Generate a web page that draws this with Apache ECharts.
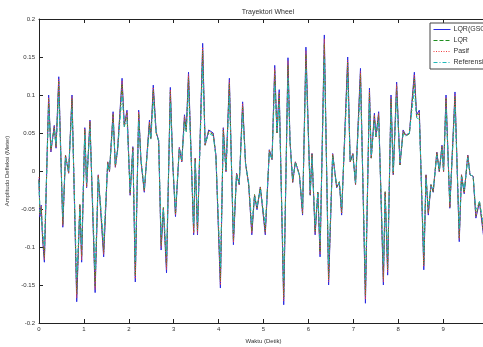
<!DOCTYPE html>
<html lang="en">
<head>
    <meta charset="UTF-8">
    <script src="https://cdn.jsdelivr.net/npm/echarts@6/dist/echarts.min.js"></script>
    <title>Trayektori Wheel</title>
    <style>
        html, body { margin: 0; padding: 0; background: #fff; }
    </style>
</head>
<body>
    <div id="chart" style="width: 483px;height:347px;"></div>
</body>
<script type="text/javascript">
    // waktu (detik)
    var waktu = [0,0.02,0.05,0.08,0.12,0.215,0.265,0.34,0.38,0.44,
        0.53,0.59,0.66,0.735,0.84,0.91,0.95,1.02,1.06,1.135,
        1.25,1.32,1.38,1.44,1.53,1.57,1.65,1.70,1.75,1.85,
        1.90,1.96,2.03,2.09,2.145,2.22,2.27,2.345,2.46,2.49,
        2.545,2.61,2.665,2.72,2.77,2.84,2.925,2.98,3.04,3.125,
        3.18,3.24,3.28,3.33,3.445,3.48,3.53,3.645,3.70,3.78,
        3.88,3.94,4.04,4.105,4.165,4.24,4.33,4.40,4.46,4.535,
        4.60,4.67,4.74,4.80,4.855,4.93,5.04,5.13,5.19,5.25,
        5.30,5.35,5.45,5.545,5.59,5.65,5.71,5.80,5.87,5.945,
        6.04,6.08,6.15,6.21,6.26,6.355,6.45,6.54,6.63,6.69,
        6.74,6.875,6.93,6.99,7.05,7.16,7.27,7.36,7.40,7.47,
        7.505,7.565,7.67,7.71,7.765,7.84,7.89,7.965,8.04,8.11,
        8.17,8.25,8.36,8.41,8.47,8.57,8.62,8.67,8.73,8.78,
        8.86,8.915,8.975,9.01,9.065,9.115,9.15,9.265,9.36,9.41,
        9.47,9.55,9.60,9.67,9.73,9.81,9.90,10.0];

    var lqrGso = [-0.010,-0.060,-0.045,-0.090,-0.120,0.100,0.025,0.060,0.030,0.124,
        -0.074,0.021,-0.003,0.100,-0.172,-0.045,-0.120,0.057,-0.022,0.067,
        -0.160,-0.005,-0.058,-0.113,0.012,-0.001,0.078,0.005,0.028,0.122,
        0.060,0.080,-0.032,0.032,-0.146,0.080,0.014,-0.028,0.067,0.043,
        0.113,0.051,0.040,-0.104,-0.050,-0.134,0.110,0.008,-0.060,0.031,
        0.012,0.074,0.054,0.130,-0.084,0.017,-0.084,0.168,0.034,0.054,
        0.050,0.021,-0.154,0.057,-0.001,0.122,-0.097,-0.003,-0.018,0.091,
        0.010,-0.018,-0.084,-0.032,-0.051,-0.021,-0.084,0.028,0.015,0.139,
        0.050,0.107,-0.176,0.149,0.040,-0.015,0.012,-0.005,-0.058,0.163,
        -0.032,0.023,-0.084,-0.028,-0.113,0.179,-0.150,0.023,-0.022,-0.015,
        -0.058,0.150,0.012,0.023,-0.018,0.135,-0.174,0.109,0.017,0.076,
        0.045,0.078,-0.150,-0.028,-0.137,0.100,-0.005,0.117,0.008,0.054,
        0.047,0.050,0.130,0.074,0.080,-0.130,-0.005,-0.058,-0.018,-0.028,
        0.025,-0.001,0.034,-0.001,0.100,0.012,-0.049,0.104,-0.093,-0.005,
        -0.030,0.021,-0.005,-0.007,-0.062,-0.041,-0.085,-0.050];

    var lqr = [-0.012,-0.056,-0.048,-0.086,-0.114,0.094,0.028,0.057,0.032,0.117,
        -0.070,0.020,-0.002,0.095,-0.162,-0.044,-0.113,0.054,-0.020,0.064,
        -0.151,-0.006,-0.055,-0.107,0.011,0.000,0.074,0.006,0.027,0.115,
        0.058,0.076,-0.030,0.030,-0.138,0.076,0.015,-0.026,0.063,0.042,
        0.107,0.050,0.039,-0.098,-0.048,-0.126,0.104,0.009,-0.057,0.030,
        0.013,0.070,0.052,0.123,-0.080,0.016,-0.079,0.158,0.034,0.052,
        0.048,0.020,-0.145,0.054,0.000,0.115,-0.092,-0.004,-0.017,0.086,
        0.010,-0.017,-0.080,-0.031,-0.049,-0.021,-0.080,0.027,0.015,0.131,
        0.049,0.101,-0.166,0.140,0.039,-0.014,0.012,-0.005,-0.055,0.154,
        -0.031,0.022,-0.080,-0.027,-0.107,0.168,-0.142,0.022,-0.021,-0.014,
        -0.055,0.142,0.012,0.022,-0.017,0.128,-0.164,0.103,0.017,0.072,
        0.044,0.074,-0.142,-0.027,-0.130,0.095,-0.004,0.111,0.008,0.052,
        0.046,0.049,0.123,0.071,0.076,-0.123,-0.006,-0.055,-0.018,-0.027,
        0.024,0.000,0.032,0.000,0.095,0.012,-0.047,0.098,-0.088,-0.005,
        -0.029,0.020,-0.005,-0.007,-0.059,-0.040,-0.080,-0.048];

    var pasif = [-0.008,-0.058,-0.046,-0.088,-0.117,0.097,0.026,0.059,0.031,0.121,
        -0.072,0.021,-0.003,0.098,-0.167,-0.045,-0.117,0.056,-0.021,0.066,
        -0.156,-0.005,-0.057,-0.110,0.012,-0.001,0.076,0.005,0.028,0.119,
        0.059,0.078,-0.031,0.031,-0.142,0.078,0.014,-0.027,0.065,0.043,
        0.110,0.051,0.040,-0.101,-0.049,-0.130,0.107,0.008,-0.058,0.031,
        0.012,0.072,0.053,0.127,-0.082,0.017,-0.082,0.163,0.034,0.053,
        0.049,0.021,-0.150,0.056,-0.001,0.119,-0.094,-0.003,-0.018,0.089,
        0.010,-0.018,-0.082,-0.032,-0.050,-0.021,-0.082,0.028,0.015,0.135,
        0.050,0.104,-0.171,0.145,0.040,-0.015,0.012,-0.005,-0.056,0.158,
        -0.031,0.023,-0.082,-0.028,-0.110,0.174,-0.146,0.023,-0.021,-0.015,
        -0.056,0.146,0.012,0.023,-0.018,0.131,-0.169,0.106,0.017,0.074,
        0.045,0.076,-0.146,-0.028,-0.133,0.097,-0.005,0.114,0.008,0.053,
        0.047,0.050,0.127,0.072,0.078,-0.126,-0.005,-0.056,-0.018,-0.027,
        0.025,-0.001,0.033,-0.001,0.097,0.012,-0.048,0.101,-0.090,-0.005,
        -0.029,0.021,-0.005,-0.007,-0.060,-0.040,-0.083,-0.049];

    var referensi = [-0.015,-0.050,-0.048,-0.078,-0.098,0.082,0.032,0.052,0.035,0.098,
        -0.060,0.018,0.000,0.082,-0.140,-0.050,-0.098,0.047,-0.015,0.055,
        -0.130,-0.010,-0.050,-0.092,0.010,0.002,0.064,0.010,0.026,0.100,
        0.058,0.066,-0.025,0.025,-0.118,0.066,0.016,-0.022,0.055,0.042,
        0.092,0.050,0.040,-0.085,-0.050,-0.110,0.090,0.010,-0.050,0.028,
        0.015,0.062,0.052,0.107,-0.070,0.012,-0.068,0.138,0.036,0.050,
        0.046,0.020,-0.126,0.046,0.002,0.100,-0.080,-0.006,-0.016,0.075,
        0.010,-0.015,-0.070,-0.034,-0.046,-0.024,-0.070,0.024,0.016,0.114,
        0.052,0.088,-0.144,0.122,0.040,-0.010,0.010,-0.006,-0.048,0.134,
        -0.026,0.018,-0.070,-0.030,-0.093,0.147,-0.123,0.018,-0.018,-0.016,
        -0.048,0.123,0.014,0.020,-0.015,0.111,-0.143,0.090,0.020,0.064,
        0.046,0.066,-0.123,-0.035,-0.112,0.082,0.000,0.096,0.012,0.048,
        0.046,0.050,0.107,0.070,0.068,-0.107,-0.010,-0.048,-0.020,-0.024,
        0.020,0.002,0.028,0.002,0.082,0.010,-0.040,0.085,-0.076,-0.008,
        -0.025,0.017,-0.004,-0.008,-0.051,-0.040,-0.070,-0.045];

    var namaSeri = ['LQR(GSO)', 'LQR', 'Pasif', 'Referensi'];
    var nilaiSeri = [lqrGso, lqr, pasif, referensi];
    var warna = ['#2a2ae0', '#1f8f1f', '#f04040', '#20b8b8'];
    var garis = ['solid', [4, 2], [1, 1.5], [4, 2, 1, 2]];

    function pasangkan(nilai) {
        var hasil = [];
        for (var i = 0; i < waktu.length; i++) {
            hasil.push([waktu[i], nilai[i]]);
        }
        return hasil;
    }

    var seri = [], legendData = [];
    for (var k = 0; k < namaSeri.length; k++) {
        var gaya = {color: warna[k], width: 1, type: garis[k]};
        seri.push({
            name: namaSeri[k],
            type: 'line',
            data: pasangkan(nilaiSeri[k]),
            showSymbol: false,
            symbol: 'none',
            lineStyle: gaya,
            itemStyle: {color: warna[k]}
        });
        legendData.push({name: namaSeri[k], lineStyle: gaya, itemStyle: {opacity: 0}});
    }

    var chart = echarts.init(document.getElementById('chart'));
    var teks = '#333';
    var axisFont = {fontSize: 6, color: teks, fontFamily: 'Liberation Sans'};

    chart.setOption({
        animation: false,
        backgroundColor: '#fff',
        textStyle: {fontFamily: 'Liberation Sans'},
        title: {
            text: 'Trayektori Wheel',
            left: 263,
            top: 4,
            textAlign: 'center',
            textStyle: {fontSize: 7, fontWeight: 'normal', color: teks}
        },
        legend: {
            orient: 'vertical',
            left: 430,
            top: 23,
            data: legendData,
            itemWidth: 17,
            itemHeight: 6,
            itemGap: 4,
            padding: [3, 6, 3, 3],
            borderColor: '#444',
            borderWidth: 1,
            backgroundColor: '#fff',
            textStyle: {fontSize: 7, color: teks, padding: [0, 0, 0, -2]}
        },
        // kanan sengaja terpotong seperti gambar asli
        grid: {left: 39, top: 19, height: 304, width: 449, outerBoundsMode: 'none'},
        xAxis: [{
            type: 'value',
            min: 0, max: 10, interval: 1,
            name: 'Waktu (Detik)',
            nameLocation: 'middle',
            nameGap: 15,
            nameTextStyle: {fontSize: 6, color: teks},
            axisLine: {show: true, onZero: false, lineStyle: {color: '#222', width: 1}},
            axisTick: {inside: true, length: 4, lineStyle: {color: '#222'}},
            axisLabel: Object.assign({margin: 3}, axisFont),
            splitLine: {show: false}
        }, {
            type: 'value',
            position: 'top',
            min: 0, max: 10, interval: 1,
            axisLine: {show: true, onZero: false, lineStyle: {color: '#222', width: 1}},
            axisTick: {inside: true, length: 4, lineStyle: {color: '#222'}},
            axisLabel: {show: false},
            splitLine: {show: false}
        }],
        yAxis: {
            type: 'value',
            min: -0.2, max: 0.2, interval: 0.05,
            name: 'Amplitudo Defleksi (Meter)',
            nameLocation: 'middle',
            nameGap: 23,
            nameTextStyle: {fontSize: 6, color: teks},
            axisLine: {show: true, onZero: false, lineStyle: {color: '#222', width: 1}},
            axisTick: {inside: true, length: 4, lineStyle: {color: '#222'}},
            axisLabel: Object.assign({margin: 4}, axisFont),
            splitLine: {show: false}
        },
        series: seri
    });
</script>
</html>
